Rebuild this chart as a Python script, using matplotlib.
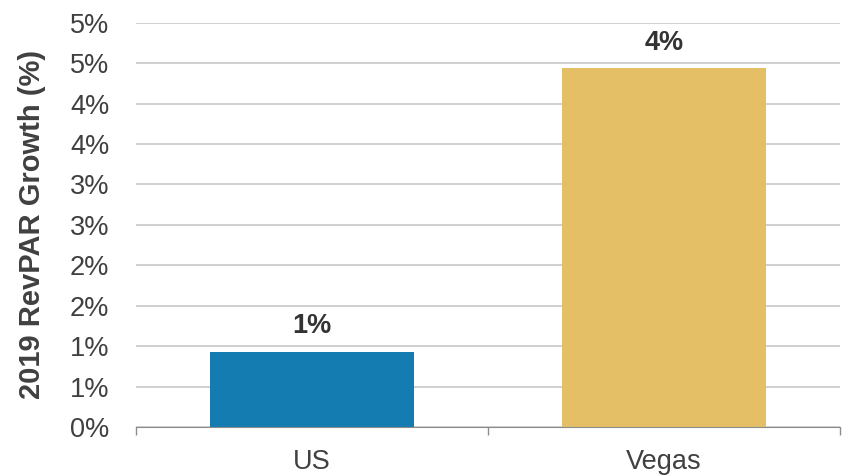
import matplotlib
matplotlib.use('Agg')
import matplotlib.pyplot as plt

categories = ['US', 'Vegas']
growth = [0.93, 4.44]
bar_colors = ['#157cb1', '#e4bf65']
y_ticks = [0, 0.5, 1, 1.5, 2, 2.5, 3, 3.5, 4, 4.5, 5]
y_tick_labels = ['0%', '1%', '1%', '2%', '2%', '3%', '3%', '4%', '4%', '5%', '5%']

plt.rcParams['font.family'] = ['Liberation Sans', 'DejaVu Sans']

fig = plt.figure(figsize=(8.44, 4.76), dpi=100)
ax = fig.add_axes([0.161, 0.103, 0.834, 0.849])

x = range(len(categories))
ax.bar(x, growth, width=0.58, color=bar_colors, zorder=3)

for xi, v in zip(x, growth):
    ax.annotate(f'{v:.0f}%', (xi, v), xytext=(0, 9), textcoords='offset points',
                ha='center', va='bottom', fontsize=19.5, fontweight='bold', color='#333333')

ax.set_xlim(-0.5, 1.5)
ax.set_ylim(0, 5)
ax.set_yticks(y_ticks)
ax.set_yticklabels(y_tick_labels)
ax.set_xticks(list(x))
ax.set_xticklabels(categories)
ax.set_xticks([-0.5, 0.5, 1.5], minor=True)

ax.tick_params(axis='y', length=0, labelsize=19.5, labelcolor='#404040', pad=19)
ax.tick_params(axis='x', which='major', length=0, labelsize=19.5, labelcolor='#404040', pad=16)
ax.tick_params(axis='x', which='minor', length=6, width=1, color='#8c8c8c')

ax.grid(axis='y', color='#c8c8c8', linewidth=1.2, zorder=0)
for s in ['left', 'right', 'top']:
    ax.spines[s].set_visible(False)
ax.spines['bottom'].set_color('#8c8c8c')
ax.spines['bottom'].set_zorder(4)

ax.set_ylabel('2019 RevPAR Growth (%)', fontsize=21, fontweight='bold', color='#404040', labelpad=17)

fig.savefig('out.png', dpi=100)
